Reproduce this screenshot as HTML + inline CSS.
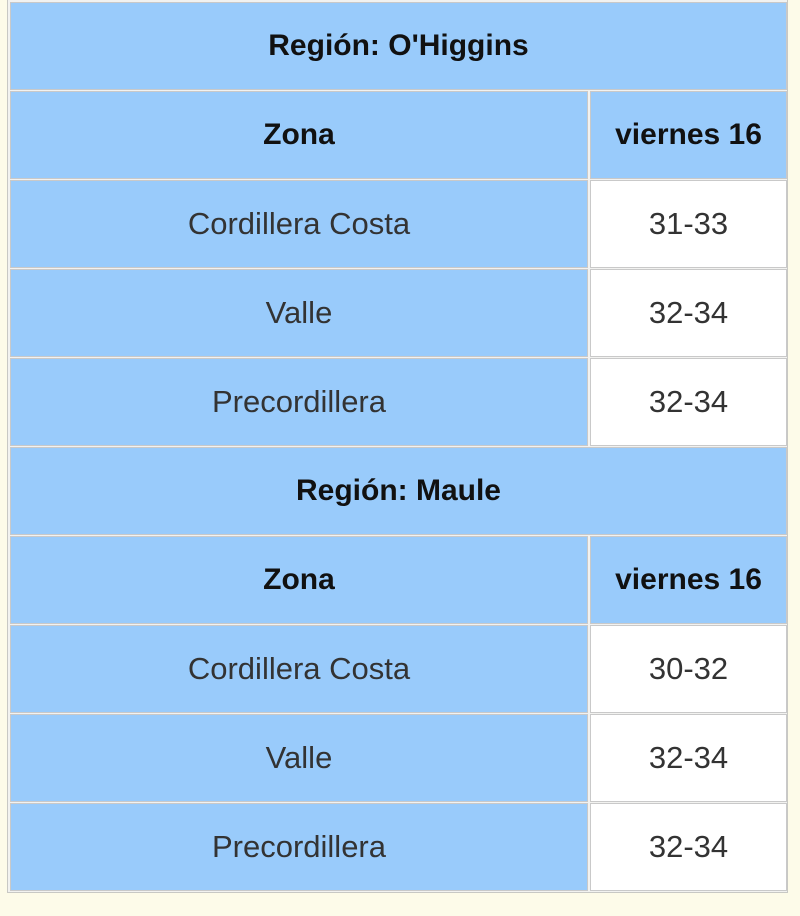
<!DOCTYPE html>
<html><head><style>
body{margin:0;width:800px;height:916px;background:#fdfbe9;position:relative;overflow:hidden;font-family:"Liberation Sans","DejaVu Sans",sans-serif;}
.t{position:absolute;left:7px;top:0;width:781px;height:893px;background:#f2f2f0;border:1px solid #c8c8c4;border-top:none;box-sizing:border-box}
.c{position:absolute;box-sizing:border-box;border:1px solid #c9c9c9;background:#99cbfb;display:flex;align-items:center;justify-content:center;font-size:31px;color:#333}
.w{background:#fff}
.b{font-weight:bold;color:#111;font-size:30px}
</style></head><body>
<div class="t"></div>
<div class="c b" style="left:10px;top:2px;width:777px;height:88px">Región: O'Higgins</div>
<div class="c b" style="left:10px;top:91px;width:578px;height:88px">Zona</div>
<div class="c b" style="left:590px;top:91px;width:197px;height:88px">viernes 16</div>
<div class="c" style="left:10px;top:180px;width:578px;height:88px">Cordillera Costa</div>
<div class="c w" style="left:590px;top:180px;width:197px;height:88px">31-33</div>
<div class="c" style="left:10px;top:269px;width:578px;height:88px">Valle</div>
<div class="c w" style="left:590px;top:269px;width:197px;height:88px">32-34</div>
<div class="c" style="left:10px;top:358px;width:578px;height:88px">Precordillera</div>
<div class="c w" style="left:590px;top:358px;width:197px;height:88px">32-34</div>
<div class="c b" style="left:10px;top:447px;width:777px;height:88px">Región: Maule</div>
<div class="c b" style="left:10px;top:536px;width:578px;height:88px">Zona</div>
<div class="c b" style="left:590px;top:536px;width:197px;height:88px">viernes 16</div>
<div class="c" style="left:10px;top:625px;width:578px;height:88px">Cordillera Costa</div>
<div class="c w" style="left:590px;top:625px;width:197px;height:88px">30-32</div>
<div class="c" style="left:10px;top:714px;width:578px;height:88px">Valle</div>
<div class="c w" style="left:590px;top:714px;width:197px;height:88px">32-34</div>
<div class="c" style="left:10px;top:803px;width:578px;height:88px">Precordillera</div>
<div class="c w" style="left:590px;top:803px;width:197px;height:88px">32-34</div>
</body></html>
